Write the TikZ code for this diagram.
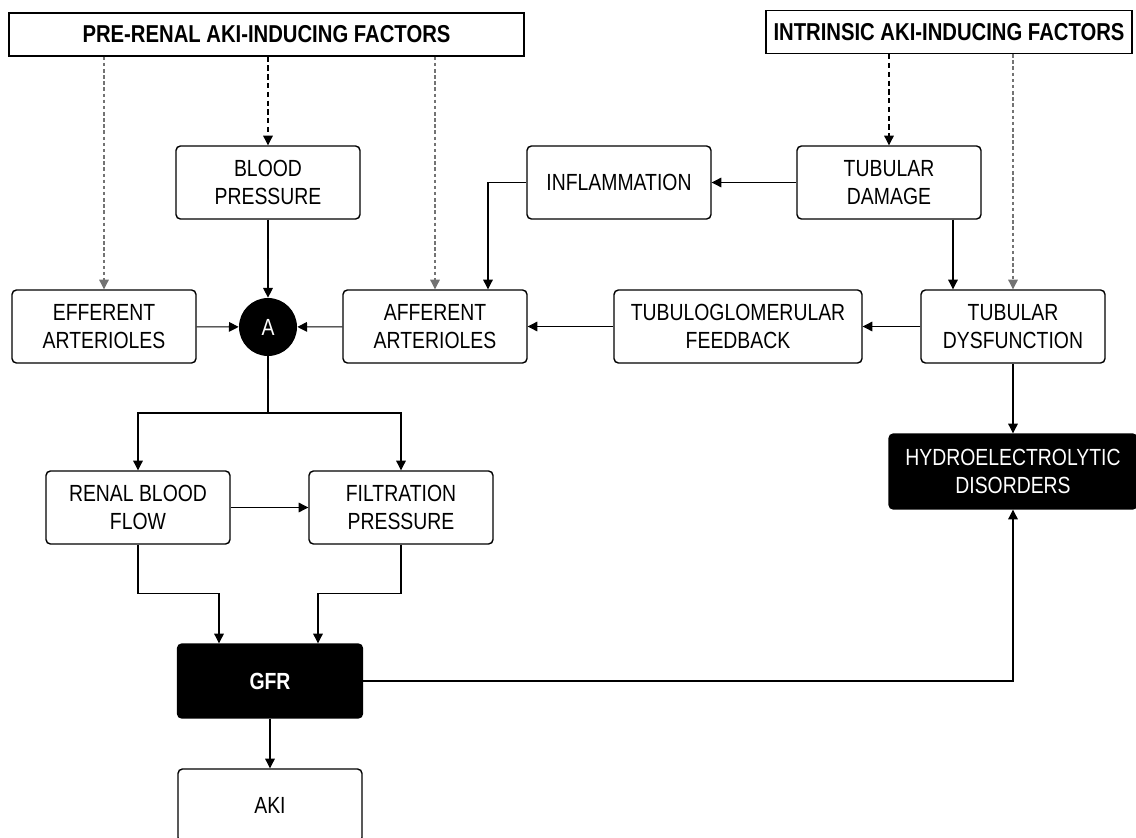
\documentclass[tikz,border=0pt]{standalone}
\usepackage{fontspec}
\setmainfont[FakeStretch=0.83]{Liberation Sans}
\usetikzlibrary{shapes,arrows.meta,positioning,calc}
\tikzset{
    block/.style={rectangle, draw, line width=0.8pt, rounded corners=2.5pt, align=center, minimum width=3.68cm, minimum height=1.46cm, inner sep=0pt, font=\fontsize{13.3}{16.4}\selectfont},
    darkblock/.style={block, fill=black, text=white},
    header/.style={rectangle, draw, line width=0.8pt, minimum height=0.86cm, inner sep=0pt, font=\fontsize{13.9}{16.4}\selectfont\bfseries},
    junction/.style={circle, fill=black, text=white, minimum size=1.16cm, inner sep=0pt, font=\fontsize{13.3}{16.4}\selectfont},
    line/.style={draw, line width=0.6pt, -{Triangle[length=5.5pt,width=5.5pt]}},
    dline/.style={line, dash pattern=on 3pt off 2pt},
    gline/.style={line, black!55, dash pattern=on 2pt off 1.5pt}
}

\begin{document}
\begin{tikzpicture}[x=0.02cm, y=-0.02cm]
    \useasboundingbox (0,0) rectangle (1136,838);

    % Inducing factors
    \node [header, minimum width=10.3cm] (prerenal) at (266.5,34.5) {PRE-RENAL AKI-INDUCING FACTORS};
    \node [header, minimum width=7.32cm] (intrinsic) at (949,32) {INTRINSIC AKI-INDUCING FACTORS};

    % Upper row
    \node [block] (bp) at (268,182.5) {BLOOD\\PRESSURE};
    \node [block] (infl) at (619,182.5) {INFLAMMATION};
    \node [block] (tdam) at (889,182.5) {TUBULAR\\DAMAGE};

    % Arterioles row
    \node [block] (eff) at (104,326.5) {EFFERENT\\ARTERIOLES};
    \node [junction] (A) at (268,327) {A};
    \node [block] (aff) at (435,326.5) {AFFERENT\\ARTERIOLES};
    \node [block, minimum width=4.96cm] (tgf) at (738,326.5) {TUBULOGLOMERULAR\\FEEDBACK};
    \node [block] (tdys) at (1013,326.5) {TUBULAR\\DYSFUNCTION};

    % Haemodynamics
    \node [block] (rbf) at (138,507.5) {RENAL BLOOD\\FLOW};
    \node [block] (fp) at (401,507.5) {FILTRATION\\PRESSURE};
    \node [darkblock, minimum width=4.96cm, minimum height=1.5cm] (hydro) at (1013,471.5) {HYDROELECTROLYTIC\\DISORDERS};

    % Outcome
    \node [darkblock, minimum width=3.7cm, minimum height=1.48cm, font=\fontsize{13.3}{16.4}\selectfont\bfseries] (gfr) at (270,681) {GFR};
    \node [block] (aki) at (270,805.5) {AKI};

    % Factor links
    \path [gline] (prerenal.south -| eff) -- (eff);
    \path [dline] (prerenal.south -| bp) -- (bp);
    \path [gline] (prerenal.south -| aff) -- (aff);
    \path [dline] (intrinsic.south -| tdam) -- (tdam);
    \path [gline] (intrinsic.south -| tdys) -- (tdys);

    % Connections
    \path [line] (bp) -- (A);
    \path [line] (eff) -- (A);
    \path [line] (aff) -- (A);
    \path [line] (tdam) -- (infl);
    \path [line] (infl) -| ([xshift=1.06cm]aff.north);
    \path [line] ([xshift=1.28cm]tdam.south) -- ([xshift=1.28cm]tdam.south |- tdys.north);
    \path [line] (tdys) -- (tgf);
    \path [line] (tgf) -- (aff);
    \path [line] (tdys) -- (hydro);

    \coordinate (split) at (268,413);
    \draw [line width=0.6pt] (A) -- (split);
    \path [line] (split) -| (rbf);
    \path [line] (split) -| (fp);
    \path [line] (rbf) -- (fp);

    \path [line] (rbf.south) |- ([xshift=-1.02cm, yshift=1cm]gfr.north) -- ([xshift=-1.02cm]gfr.north);
    \path [line] (fp.south) |- ([xshift=0.96cm, yshift=1cm]gfr.north) -- ([xshift=0.96cm]gfr.north);
    \path [line] (gfr) -| (hydro);
    \path [line] (gfr) -- (aki);
\end{tikzpicture}
\end{document}
